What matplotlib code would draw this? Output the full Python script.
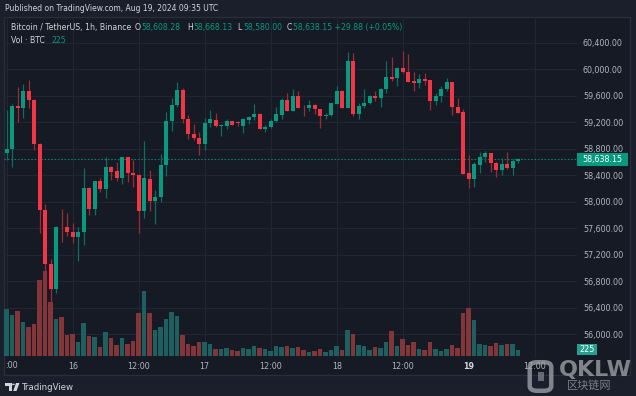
import matplotlib
matplotlib.use('Agg')
import matplotlib.pyplot as plt
from matplotlib.patches import Rectangle, FancyBboxPatch, Polygon, Circle
import matplotlib.transforms as mtransforms
import numpy as np

W, H = 636, 396

# ---------------- data (BTC/USDT 1h, Aug 15 12:00 -> Aug 19 09:00 UTC) ----------------
opens = [58741, 58796, 59445, 59410, 59672, 59536, 58872, 57875, 57055, 56677,
         57625, 57623, 57543, 57473, 57543, 58212, 57890, 58308, 58197, 58529,
         58464, 58353, 58670, 58439, 58404, 57865, 58343, 58016, 58071, 58555,
         59214, 59460, 59687, 59254, 59023, 58962, 58867, 59184, 59239, 59148,
         59148, 59214, 59194, 59148, 59239, 59274, 59325, 59103, 59128, 59224,
         59315, 59536, 59375, 59601, 59420, 59410, 59461, 59395, 59294, 59310,
         59481, 59672, 59420, 60120, 59330, 59451, 59486, 59596, 59561, 59702,
         59878, 59863, 60019, 59959, 59828, 59798, 59853, 59838, 59526, 59596,
         59702, 59803, 59435, 59350, 58429, 58338, 58560, 58670, 58731, 58585,
         58479, 58570, 58504, 58608.28]
highs = [59385, 59476, 59737, 59778, 59838, 59546, 58882, 57966, 57130, 57639,
         57890, 57825, 57674, 57623, 58514, 58228, 58318, 58353, 58670, 58540,
         58605, 58680, 58675, 58630, 58414, 58917, 58479, 58177, 58721, 59360,
         59561, 59813, 59712, 59310, 59174, 59058, 59259, 59385, 59345, 59169,
         59244, 59219, 59224, 59259, 59294, 59476, 59335, 59159, 59244, 59435,
         59561, 59647, 59702, 59672, 59461, 59536, 59471, 59405, 59335, 59496,
         59747, 59687, 60256, 60251, 59486, 59702, 59607, 59677, 59722, 60125,
         60190, 60029, 60276, 60226, 59964, 59929, 59949, 59840, 59637, 59747,
         59863, 59808, 59571, 59395, 58706, 58605, 58746, 58771, 58735, 58605,
         58655, 58751, 58640, 58668.13]
lows = [58630, 58529, 59209, 59259, 59420, 58781, 57533, 56843, 56491, 56617,
        57397, 57483, 57382, 57110, 57347, 57800, 57800, 58152, 58061, 58328,
        58318, 58268, 58303, 58227, 57533, 57759, 57865, 57659, 58001, 58393,
        59073, 59435, 59184, 58947, 58932, 58706, 58781, 59133, 59123, 58997,
        59093, 59154, 59143, 59043, 59174, 59234, 59093, 59058, 59108, 59209,
        59244, 59370, 59370, 59410, 59294, 59375, 59325, 59118, 59244, 59300,
        59471, 59410, 59410, 59294, 59254, 59410, 59476, 59521, 59435, 59637,
        59823, 59752, 59939, 59813, 59672, 59712, 59763, 59385, 59461, 59511,
        59677, 59310, 59335, 58415, 58212, 58228, 58429, 58605, 58454, 58368,
        58404, 58500, 58404, 58580.00]
closes = [58791, 59445, 59410, 59672, 59536, 58867, 57875, 57055, 56677, 57623,
          57612, 57548, 57473, 57543, 58212, 57890, 58308, 58197, 58529, 58454,
          58353, 58670, 58439, 58399, 57865, 58353, 58016, 58071, 58555, 59214,
          59460, 59687, 59254, 59023, 58967, 58867, 59194, 59244, 59148, 59159,
          59214, 59159, 59184, 59244, 59279, 59325, 59103, 59128, 59224, 59325,
          59536, 59375, 59601, 59420, 59410, 59461, 59395, 59294, 59310, 59491,
          59672, 59420, 60120, 59330, 59445, 59491, 59596, 59561, 59702, 59878,
          59853, 60019, 59954, 59813, 59798, 59858, 59828, 59526, 59601, 59702,
          59803, 59435, 59345, 58419, 58338, 58570, 58670, 58731, 58580, 58479,
          58570, 58504, 58615, 58638.15]
volumes = [1845, 1620, 1765, 1355, 1157, 1252, 3002, 3358, 2133, 1462,
           1540, 818, 881, 553, 1315, 790, 762, 367, 948, 711,
           435, 699, 462, 593, 1687, 2568, 1687, 1027, 1157, 1450,
           1738, 1580, 818, 486, 383, 553, 541, 462, 277, 288,
           316, 237, 186, 316, 277, 407, 316, 265, 209, 407,
           344, 407, 328, 367, 237, 158, 186, 277, 158, 237,
           395, 237, 1027, 857, 435, 395, 237, 344, 316, 541,
           988, 407, 672, 446, 553, 265, 220, 553, 265, 209,
           265, 423, 304, 1687, 1896, 1422, 474, 446, 407, 525,
           423, 474, 474, 225]

x_tick_pos = [12, 24, 36, 48, 60, 72, 84, 96]
x_tick_labels = ['16', '12:00', '17', '12:00', '18', '12:00', '19', '12:00']
price_ticks = list(range(56000, 60401, 400))

legend_title = 'Bitcoin / TetherUS, 1h, Binance'
header = 'Published on TradingView.com, Aug 19, 2024 09:35 UTC'
last_change = '+29.88 (+0.05%)'

# ---------------- style ----------------
BG = '#161a25'
OUTER = '#1b1f2b'
UP = '#089981'
DOWN = '#f23645'
UP_WICK = '#0b6e5f'
DOWN_WICK = '#9c2b36'
VOL_UP = '#1e605f'
VOL_DOWN = '#82363a'
GRID = '#222632'
TXT = '#b2b5be'
TXT2 = '#d1d4dc'

plt.rcParams['font.family'] = ['DejaVu Sans']

fig = plt.figure(figsize=(W / 100, H / 100), dpi=100, facecolor=OUTER)


def fx(x):
    return x / W


def fy(y):
    return 1 - y / H


# chart frame
fig.patches.append(Rectangle((fx(4), fy(375)), fx(630) - fx(4), fy(17) - fy(375),
                             transform=fig.transFigure, fc=BG, ec='#2a2e39', lw=1, zorder=-5))

rect = [fx(4), fy(357), fx(577) - fx(4), fy(17) - fy(357)]
ax_vol = fig.add_axes(rect, zorder=1)
ax = fig.add_axes(rect, sharex=ax_vol, zorder=2)
for a in (ax_vol, ax):
    a.patch.set_alpha(0)
    for s in a.spines.values():
        s.set_visible(False)

n = len(opens)
x = np.arange(n)
o = np.array(opens, float)
c = np.array(closes, float)
h = np.array(highs, float)
l = np.array(lows, float)
v = np.array(volumes, float)
up = c >= o

# volume
vpx = 39.5  # BTC per pixel
ax_vol.set_ylim(-1 * vpx, -1 * vpx + 340 * vpx)
ax_vol.bar(x[up], v[up], width=0.82, color=VOL_UP, linewidth=0)
ax_vol.bar(x[~up], v[~up], width=0.82, color=VOL_DOWN, linewidth=0)
ax_vol.set_yticks([])
ax_vol.tick_params(axis='x', length=0, labelbottom=False)

# price
ax.set_xlim((4 - 6.7) / 5.5, (577 - 6.7) / 5.5)
ax.set_ylim(60000 - (357 - 69.3) * 15.1, 60000 + (69.3 - 17) * 15.1)

ax.vlines(x[up], l[up], h[up], color=UP_WICK, lw=0.9, zorder=3)
ax.vlines(x[~up], l[~up], h[~up], color=DOWN_WICK, lw=0.9, zorder=3)
bh = np.maximum(np.abs(c - o), 13)
bb = np.minimum(o, c)
ax.bar(x[up], bh[up], bottom=bb[up], width=0.74, color=UP, linewidth=0, zorder=4)
ax.bar(x[~up], bh[~up], bottom=bb[~up], width=0.74, color=DOWN, linewidth=0, zorder=4)

# grid + ticks
ax.set_yticks(price_ticks)
ax.set_yticklabels([f'{p:,.2f}' for p in price_ticks])
ax.yaxis.tick_right()
ax.tick_params(axis='y', length=0, pad=4.3, labelsize=5.8, labelcolor=TXT)
ax.set_xticks([0] + x_tick_pos)
ax.set_xticklabels([''] + x_tick_labels)
ax.tick_params(axis='x', length=0, pad=3.6, labelsize=5.8, labelcolor=TXT)
for lab in ax.get_xticklabels():
    if lab.get_text() == '19':
        lab.set_fontweight('bold')
        lab.set_color(TXT2)
ax_vol.grid(True, axis='x', color=GRID, lw=0.8, zorder=0)
ax_vol.set_axisbelow(True)
ax_vol.set_xticks([0] + x_tick_pos)
for p in price_ticks:
    ax_vol.axhline((p - ax.get_ylim()[0]) / (ax.get_ylim()[1] - ax.get_ylim()[0]) * (ax_vol.get_ylim()[1] - ax_vol.get_ylim()[0]) + ax_vol.get_ylim()[0],
                   color=GRID, lw=0.8, zorder=0)
ax.tick_params(axis='x', labelbottom=True)

# last price line & label
last = closes[-1]
ax.axhline(last, color=UP, lw=0.8, ls=(0, (1.5, 1.5)), alpha=0.8, zorder=2)
blend = mtransforms.blended_transform_factory(ax.transAxes, ax.transData)
ax_w = 573.0
ax.add_patch(Rectangle((1.0, last - 6.5 * 15.1), 51 / ax_w, 13 * 15.1, transform=blend,
                       fc=UP, ec='none', clip_on=False, zorder=6))
ax.text(1.0 + 25.5 / ax_w, last, f'{last:,.2f}', transform=blend, ha='center', va='center',
        fontsize=5.8, color='white', clip_on=False, zorder=7)

# volume label
vblend = mtransforms.blended_transform_factory(ax_vol.transAxes, ax_vol.transData)
last_vol = volumes[-1]
vy = last_vol + 0.5 * vpx
ax_vol.add_patch(Rectangle((1.0, vy - 5.5 * vpx), 20 / ax_w, 11 * vpx, transform=vblend,
                           fc='#22a192', ec='none', clip_on=False, zorder=6))
ax_vol.text(1.0 + 10 / ax_w, vy, f'{last_vol}', transform=vblend, ha='center', va='center',
            fontsize=5.8, color='white', clip_on=False, zorder=7)

# left cut time label
fig.text(fx(5), fy(366), ':00', ha='left', va='center', fontsize=5.8, color=TXT)

# header and legend
fig.text(fx(5), fy(8.5), header, ha='left', va='center', fontsize=5.5, color=TXT2)
fig.text(fx(11), fy(27.5), legend_title, ha='left', va='center', fontsize=5.6, color=TXT2)
legend_items = [('O', opens[-1], 135), ('H', highs[-1], 187), ('L', lows[-1], 237), ('C', closes[-1], 287)]
for lab, val, px in legend_items:
    fig.text(fx(px), fy(27.5), lab, ha='left', va='center', fontsize=5.6, color=TXT2)
    s = f'{val:,.2f}'
    if lab == 'C':
        s = s + ' ' + last_change
    fig.text(fx(px + 6), fy(27.5), s, ha='left', va='center', fontsize=5.6, color=UP)
fig.text(fx(11), fy(40.5), 'Vol · BTC', ha='left', va='center', fontsize=5.6, color=TXT2)
fig.text(fx(51), fy(40.5), f'{last_vol}', ha='left', va='center', fontsize=5.6, color=UP)

# TradingView logo
lc = TXT2
fig.patches.append(Polygon([(fx(5), fy(383)), (fx(11.5), fy(383)), (fx(11.5), fy(391)),
                            (fx(8.5), fy(391)), (fx(8.5), fy(385.6)), (fx(5), fy(385.6))],
                           closed=True, transform=fig.transFigure, fc=lc, ec='none', zorder=5))
fig.patches.append(Circle((fx(13.4), fy(384.4)), 1.3 / W, transform=fig.transFigure,
                          fc=lc, ec='none', zorder=5))
fig.patches.append(Polygon([(fx(16), fy(383)), (fx(19.5), fy(383)), (fx(16.5), fy(391)),
                            (fx(13.2), fy(391))],
                           closed=True, transform=fig.transFigure, fc=lc, ec='none', zorder=5))
fig.text(fx(22), fy(387.5), 'TradingView', ha='left', va='center', fontsize=6.2, color=TXT2)

# watermark
wm = '#a4a7ad'
fig.patches.append(FancyBboxPatch((fx(531), fy(390)), fx(550) - fx(531), fy(363) - fy(390),
                                  boxstyle='round,pad=0.002,rounding_size=0.012',
                                  transform=fig.transFigure, fc='none', ec=wm, lw=3.2,
                                  alpha=0.75, zorder=10))
fig.patches.append(Rectangle((fx(538), fy(381)), fx(544) - fx(538), fy(372) - fy(381),
                             transform=fig.transFigure, fc=wm, ec='none', alpha=0.55, zorder=10))
fig.text(fx(559), fy(370), 'QKLW', ha='left', va='center', fontsize=16, fontweight='bold',
         color=wm, alpha=0.75, zorder=10)
fig.text(fx(567), fy(385.5), '区块链网', ha='left', va='center', fontsize=8,
         family=['Noto Sans CJK SC', 'DejaVu Sans'], color=wm, alpha=0.7, zorder=10)

fig.savefig('out.png', dpi=100, facecolor=OUTER)
